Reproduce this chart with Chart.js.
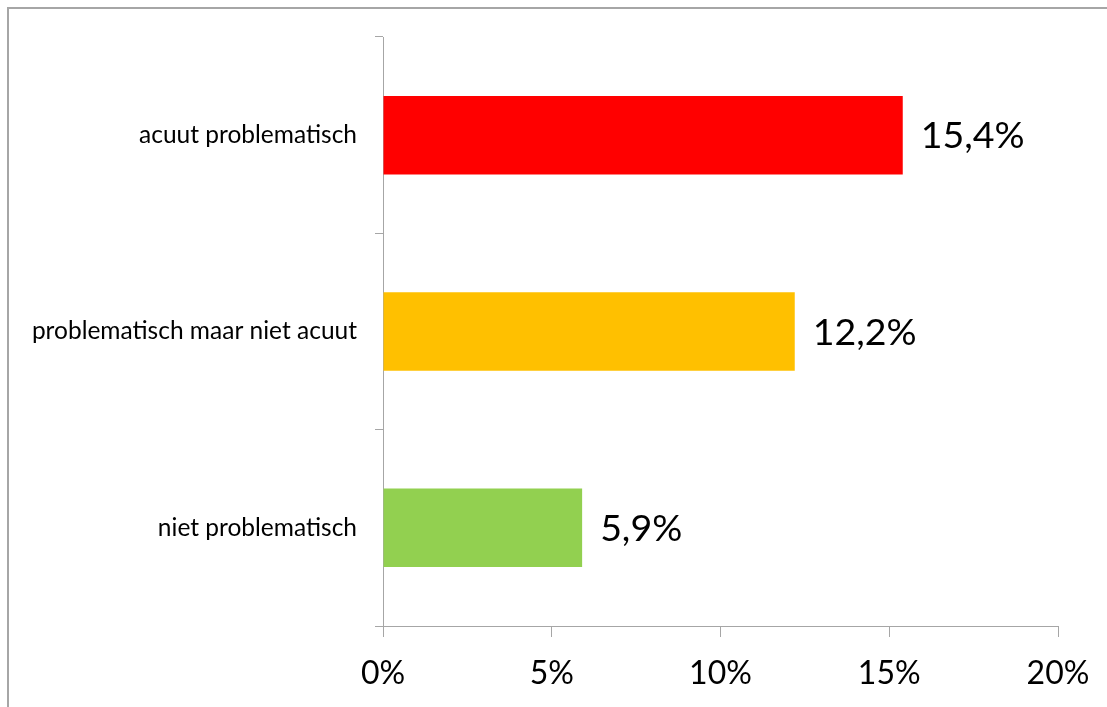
<!DOCTYPE html>
<html>
<head>
<meta charset="utf-8">
<script src="https://cdn.jsdelivr.net/npm/chart.js@4.4.1/dist/chart.umd.min.js"></script>
<style>
  html, body { margin: 0; padding: 0; background: #fff; overflow: hidden; }
  #wrap { position: relative; width: 1107px; height: 707px; }
  #frame { position: absolute; left: 7px; top: 7px; width: 1200px; height: 800px;
           border-left: 2px solid #a6a6a6; border-top: 2px solid #a6a6a6; box-sizing: border-box; }
  canvas { position: absolute; left: 0; top: 0; }
</style>
</head>
<body>
<div id="wrap">
  <div id="frame"></div>
  <canvas id="c" width="1107" height="707"></canvas>
</div>
<script>
const categories = ["acuut problematisch", "problematisch maar niet acuut", "niet problematisch"];
const values = [15.4, 12.2, 5.9];
const barColors = ["#FF0000", "#FFC000", "#92D050"];
const xTicks = [0, 5, 10, 15, 20];

const FONT = "Lato, 'Open Sans', sans-serif";

const valueLabels = {
  id: "valueLabels",
  afterDatasetsDraw(chart) {
    const ctx = chart.ctx;
    const meta = chart.getDatasetMeta(0);
    ctx.save();
    ctx.font = "37.5px " + FONT;
    ctx.fillStyle = "#000";
    ctx.textAlign = "left";
    ctx.textBaseline = "middle";
    meta.data.forEach((bar, i) => {
      const txt = values[i].toFixed(1).replace(".", ",") + "%";
      ctx.fillText(txt, bar.x + 18, bar.y + 1);
    });
    ctx.restore();
  }
};

new Chart(document.getElementById("c"), {
  type: "bar",
  data: {
    labels: categories,
    datasets: [{
      data: values,
      backgroundColor: barColors,
      borderWidth: 0,
      barPercentage: 0.4,
      categoryPercentage: 1.0
    }]
  },
  options: {
    indexAxis: "y",
    responsive: false,
    animation: false,
    devicePixelRatio: 1,
    layout: { padding: { left: 0, top: 37, right: 49, bottom: 0 } },
    plugins: { legend: { display: false }, tooltip: { enabled: false } },
    scales: {
      x: {
        min: 0, max: 20,
        afterBuildTicks(scale) { scale.ticks = xTicks.map(v => ({ value: v })); },
        afterFit(scale) { scale.height = 81; },
        border: { display: true, color: "#a6a6a6", width: 1 },
        grid: { drawOnChartArea: false, drawTicks: true, tickLength: 11, color: "#a6a6a6", tickColor: "#a6a6a6" },
        ticks: {
          padding: 17,
          color: "#000",
          font: { family: FONT, size: 32 },
          maxRotation: 0,
          callback: v => v + "%"
        }
      },
      y: {
        afterFit(scale) { scale.width = 383; },
        border: { display: true, color: "#a6a6a6", width: 1 },
        grid: { drawOnChartArea: false, drawTicks: true, tickLength: 8, offset: true, color: "#a6a6a6", tickColor: "#a6a6a6" },
        ticks: {
          padding: 18,
          color: "#000",
          font: { family: FONT, size: 24.5 }
        }
      }
    }
  },
  plugins: [valueLabels]
});
</script>
</body>
</html>
